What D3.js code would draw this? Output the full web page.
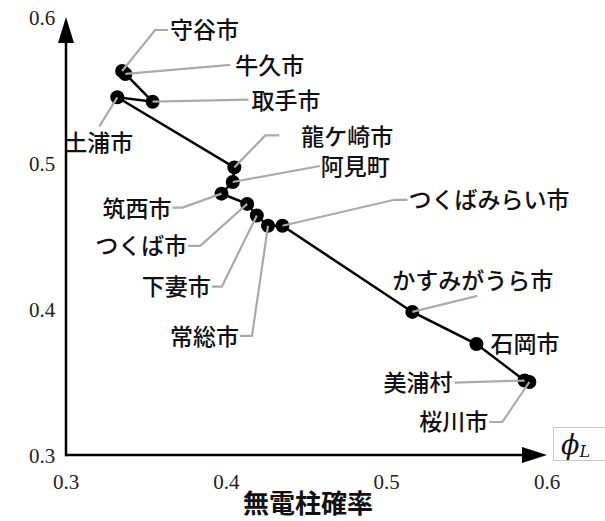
<!DOCTYPE html>
<html>
<head>
<meta charset="utf-8">
<script src="https://cdn.jsdelivr.net/npm/d3@7"></script>
<style>
  html, body { margin: 0; padding: 0; background: #fff; }
  svg { display: block; }
</style>
</head>
<body>
<svg id="chart" width="605" height="521"></svg>
<script>
// Municipalities, in the order the connecting line visits them
const cities = ["守谷市", "牛久市", "取手市", "土浦市", "龍ケ崎市", "阿見町", "筑西市", "つくば市",
                "下妻市", "常総市", "つくばみらい市", "かすみがうら市", "石岡市", "美浦村", "桜川市"];
// 無電柱確率 (horizontal value)
const probability = [0.335, 0.337, 0.354, 0.332, 0.405, 0.404, 0.397, 0.413,
                     0.419, 0.426, 0.435, 0.516, 0.556, 0.586, 0.589];
// φ_L (vertical value)
const phiL = [0.563, 0.561, 0.542, 0.545, 0.497, 0.487, 0.479, 0.472,
              0.464, 0.457, 0.457, 0.398, 0.376, 0.351, 0.350];
const xTicks = [0.3, 0.4, 0.5, 0.6];
const yTicks = [0.3, 0.4, 0.5, 0.6];

// Leader-line layout for each label: pixel offsets from its point
const labelLayout = {
  "守谷市":        { path: [[0, 0], [33, -41], [46, -41]], text: [48, -41], anchor: "start" },
  "牛久市":        { path: [[0, 0], [105, -9]], text: [110, -8], anchor: "start" },
  "取手市":        { path: [[0, 0], [96, -2]], text: [99, -1], anchor: "start" },
  "土浦市":        { path: [[0, 0], [-18, 29]], text: [-53, 45], anchor: "start" },
  "龍ケ崎市":      { path: [[0, 0], [31, -32], [45, -32]], text: [67, -31], anchor: "start" },
  "阿見町":        { path: [[0, 0], [87, -16]], text: [88, -15], anchor: "start" },
  "筑西市":        { path: [[0, 0], [-39, 14], [-49, 14]], text: [-50, 15], anchor: "end" },
  "つくば市":      { path: [[0, 0], [-47, 42], [-59, 42]], text: [-60, 42], anchor: "end" },
  "下妻市":        { path: [[0, 0], [-35, 71], [-45, 71]], text: [-46, 71], anchor: "end" },
  "常総市":        { path: [[0, 0], [-16, 110], [-28, 110]], text: [-29, 111], anchor: "end" },
  "つくばみらい市": { path: [[0, 0], [112, -26], [125, -26]], text: [126, -26], anchor: "start" },
  "かすみがうら市": { path: [[0, 0], [65, -16]], text: [-20, -31], anchor: "start" },
  "石岡市":        { path: null, text: [14, 0], anchor: "start" },
  "美浦村":        { path: [[0, 0], [-70, 2]], text: [-72, 2], anchor: "end" },
  "桜川市":        { path: [[0, 0], [-27, 40], [-40, 40]], text: [-41, 40], anchor: "end" }
};

const data = cities.map((name, i) => ({ name, x: probability[i], y: phiL[i] }));

const svg = d3.select("#chart");
const x = d3.scaleLinear().domain([0.3, 0.6]).range([66, 547]);
const y = d3.scaleLinear().domain([0.3, 0.6]).range([455, 17]);

const serif = "'Liberation Serif', 'Times New Roman', serif";
const jp = "'Noto Sans CJK JP', sans-serif";

// Axes: plain lines ending in arrowheads
svg.append("line")
  .attr("x1", x(0.3)).attr("y1", y(0.3))
  .attr("x2", x(0.6) - 20).attr("y2", y(0.3))
  .attr("stroke", "#000").attr("stroke-width", 2.5);
svg.append("line")
  .attr("x1", x(0.3)).attr("y1", y(0.3) + 1.2)
  .attr("x2", x(0.3)).attr("y2", y(0.6) + 20)
  .attr("stroke", "#000").attr("stroke-width", 2.5);
svg.append("path")
  .attr("d", `M${x(0.6)},${y(0.3)} L${x(0.6) - 25},${y(0.3) - 8} L${x(0.6) - 25},${y(0.3) + 8} Z`)
  .attr("fill", "#000");
svg.append("path")
  .attr("d", `M${x(0.3)},${y(0.6)} L${x(0.3) - 8},${y(0.6) + 26} L${x(0.3) + 8},${y(0.6) + 26} Z`)
  .attr("fill", "#000");

// Tick labels
svg.append("g").selectAll("text").data(xTicks).join("text")
  .attr("x", d => x(d)).attr("y", 489)
  .attr("text-anchor", "middle")
  .style("font-family", serif).style("font-size", "21px").attr("fill", "#222")
  .text(d => d3.format(".1f")(d));
svg.append("g").selectAll("text").data(yTicks).join("text")
  .attr("x", 42).attr("y", d => y(d) + 8)
  .attr("text-anchor", "middle")
  .style("font-family", serif).style("font-size", "21px").attr("fill", "#222")
  .text(d => d3.format(".1f")(d));

// Axis titles
svg.append("text")
  .attr("x", 308).attr("y", 513)
  .attr("text-anchor", "middle")
  .style("font-family", jp).style("font-size", "26px").style("font-weight", "700")
  .attr("fill", "#111")
  .text("無電柱確率");

const phiBox = svg.append("g");
phiBox.append("rect")
  .attr("x", 553.5).attr("y", 427.5).attr("width", 60).attr("height", 33)
  .attr("fill", "#fff").attr("stroke", "#c8c8c8").attr("stroke-width", 1);
const phiText = phiBox.append("text")
  .attr("x", 561).attr("y", 454)
  .style("font-family", "'DejaVu Serif', serif").style("font-style", "italic").attr("fill", "#111");
phiText.append("tspan").style("font-size", "27px").text("ϕ");
phiText.append("tspan").attr("dy", 3).style("font-size", "16px").text("L");

// Connecting line
svg.append("path")
  .datum(data)
  .attr("d", d3.line().x(d => x(d.x)).y(d => y(d.y)))
  .attr("fill", "none").attr("stroke", "#000").attr("stroke-width", 2.5);

// Points
svg.append("g").selectAll("circle").data(data).join("circle")
  .attr("cx", d => x(d.x)).attr("cy", d => y(d.y)).attr("r", 7)
  .attr("fill", "#000");

// Leader lines
svg.append("g").selectAll("path")
  .data(data.filter(d => labelLayout[d.name].path))
  .join("path")
  .attr("d", d => d3.line()(labelLayout[d.name].path.map(([dx, dy]) => [x(d.x) + dx, y(d.y) + dy])))
  .attr("fill", "none").attr("stroke", "#aaa").attr("stroke-width", 2.2);

// Labels
svg.append("g").selectAll("text").data(data).join("text")
  .attr("x", d => x(d.x) + labelLayout[d.name].text[0])
  .attr("y", d => y(d.y) + labelLayout[d.name].text[1])
  .attr("dy", "0.36em")
  .attr("text-anchor", d => labelLayout[d.name].anchor)
  .style("font-family", jp).style("font-size", "23px").style("font-weight", "500")
  .attr("fill", "#111")
  .text(d => d.name);
</script>
</body>
</html>
